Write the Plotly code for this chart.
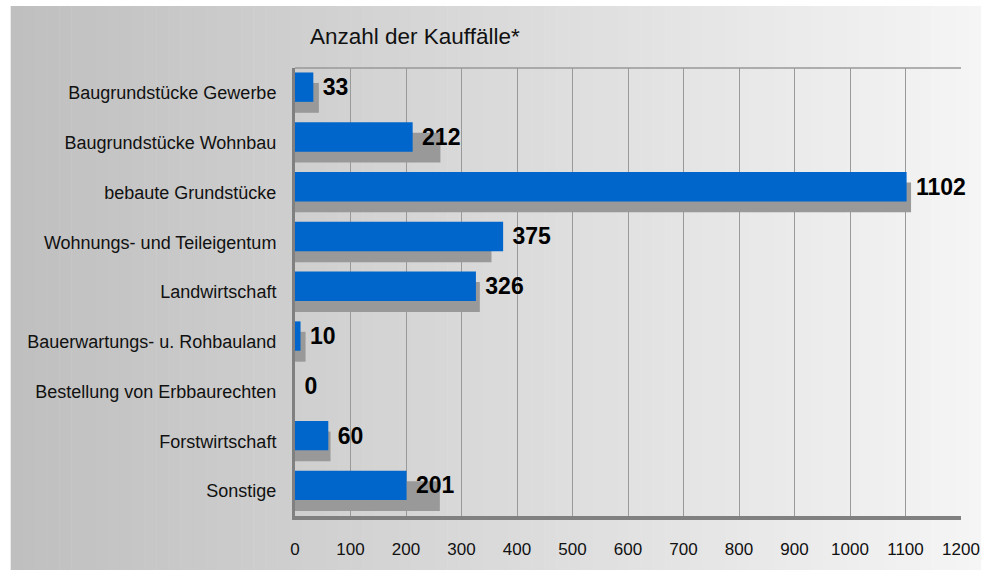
import plotly.graph_objects as go

# ---- data ----
categories = [
    "Baugrundstücke Gewerbe",
    "Baugrundstücke Wohnbau",
    "bebaute Grundstücke",
    "Wohnungs- und Teileigentum",
    "Landwirtschaft",
    "Bauerwartungs- u. Rohbauland",
    "Bestellung von Erbbaurechten",
    "Forstwirtschaft",
    "Sonstige",
]
current_values = [33, 212, 1102, 375, 326, 10, 0, 60, 201]
previous_values = [43, 262, 1110, 354, 333, 19, 0, 64, 261]
x_ticks = list(range(0, 1201, 100))
title_text = "Anzahl der Kauffälle*"

W, H = 992, 573
L, R, T, B = 295, 972, 68, 516

def px_to_paper_x(px):
    return (px - L) / (R - L)

def py_to_paper_y(py):
    return (B - py) / (B - T)

fig = go.Figure()

fig.add_trace(go.Bar(
    y=categories, x=previous_values, orientation="h",
    marker=dict(color="#999999", line=dict(width=0)),
    offset=-0.2, width=0.6, hoverinfo="skip", showlegend=False,
))
fig.add_trace(go.Bar(
    y=categories, x=current_values, orientation="h",
    marker=dict(color="#0066CC", line=dict(width=0)),
    offset=-0.41, width=0.59,
    text=["\u00a0" + str(v) for v in current_values],
    textposition="outside", constraintext="none", cliponaxis=False,
    textfont=dict(family="Liberation Sans, Arial, sans-serif", size=23, color="#000000", weight="bold"),
    hoverinfo="skip", showlegend=False,
))

# gradient background via strips (screen coords 6..992 x 6..570)
shapes = []
n = 80
x0p, x1p = 6, 992
for i in range(n):
    a = x0p + (x1p - x0p) * i / n
    b = x0p + (x1p - x0p) * (i + 1) / n + 0.5
    t = (i + 0.5) / n
    c = int(round(191 + (245 - 191) * t))
    shapes.append(dict(
        type="rect", xref="paper", yref="paper", layer="below",
        x0=px_to_paper_x(a), x1=px_to_paper_x(b),
        y0=py_to_paper_y(570), y1=py_to_paper_y(6),
        fillcolor=f"rgb({c},{c},{c})", line=dict(width=0),
    ))
# top border of plot area
shapes.append(dict(type="line", xref="paper", yref="paper", x0=0, x1=1, y0=1, y1=1,
                   line=dict(color="#999999", width=1.5), layer="below"))

fig.update_layout(
    width=W, height=H,
    margin=dict(l=L, r=W - R, t=T, b=H - B, pad=0),
    paper_bgcolor="#ffffff",
    plot_bgcolor="rgba(0,0,0,0)",
    barmode="overlay",
    shapes=shapes,
    font=dict(family="Liberation Sans, Arial, sans-serif", color="#111111"),
    annotations=[dict(
        text=title_text, xref="paper", yref="paper",
        x=px_to_paper_x(308), y=py_to_paper_y(37), xanchor="left", yanchor="middle",
        showarrow=False, font=dict(size=22.5, color="#111111"),
    )],
    xaxis=dict(
        range=[0, 1200], tickvals=x_ticks, ticktext=[str(v) for v in x_ticks],
        showgrid=True, gridcolor="#999999", gridwidth=1,
        zeroline=False, showline=True, linecolor="#808080", linewidth=4,
        ticks="", ticklabelstandoff=15, tickfont=dict(size=17, color="#111111"),
        fixedrange=True,
    ),
    yaxis=dict(
        type="category", categoryorder="array", categoryarray=categories,
        range=[8.5, -0.5], showgrid=False, zeroline=False,
        showline=True, linecolor="#808080", linewidth=3,
        ticks="", ticklabelstandoff=12, tickfont=dict(size=18, color="#111111"),
        fixedrange=True,
    ),
)

fig.write_html(
    "out.html",
    config={"displayModeBar": False},
    post_script="document.body.style.margin='0';document.body.style.overflow='hidden';",
)
